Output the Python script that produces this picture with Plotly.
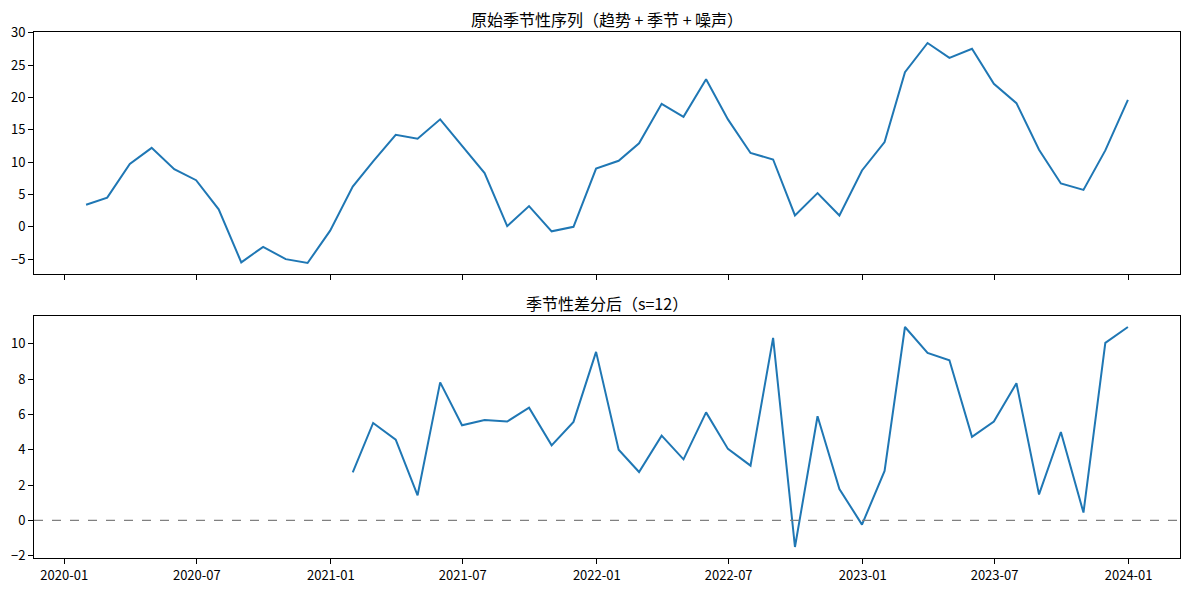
import pandas as pd
import plotly.graph_objects as go
from plotly.subplots import make_subplots

# ---- data ----
dates = pd.date_range("2020-01-31", periods=48, freq="ME")
original = [3.4, 4.5, 9.7, 12.2, 8.9, 7.2, 2.7, -5.5, -3.1, -5.0, -5.6, -0.6,
            6.2, 10.1, 14.2, 13.6, 16.6, 12.5, 8.3, 0.1, 3.2, -0.7, 0.0, 9.0,
            10.2, 12.9, 19.0, 17.0, 22.8, 16.6, 11.4, 10.4, 1.75, 5.2, 1.75, 8.7,
            13.1, 23.9, 28.4, 26.1, 27.5, 22.1, 19.1, 11.9, 6.7, 5.7, 11.8, 19.6]
seasonal_diff = [2.72, 5.52, 4.57, 1.42, 7.82, 5.39, 5.69, 5.60, 6.39, 4.25, 5.58, 9.55,
                 4.00, 2.74, 4.80, 3.46, 6.12, 4.05, 3.10, 10.34, -1.51, 5.90, 1.78, -0.24,
                 2.80, 10.96, 9.49, 9.07, 4.73, 5.60, 7.77, 1.47, 5.01, 0.44, 10.06, 10.96]
diff_dates = dates[12:]
title_top = "原始季节性序列（趋势 + 季节 + 噪声）"
title_bottom = "季节性差分后（s=12）"
x_ticks = pd.date_range("2020-01-01", "2024-01-01", freq="6MS")
x_tick_text = [d.strftime("%Y-%m") for d in x_ticks]

FONT = "Noto Sans CJK SC, SimHei, sans-serif"
BLUE = "#1f77b4"


def padded(lo, hi, frac=0.05):
    span = hi - lo
    return [lo - span * frac, hi + span * frac]


fig = make_subplots(rows=2, cols=1, shared_xaxes=True, vertical_spacing=0.0)

fig.add_trace(go.Scatter(x=dates, y=original, mode="lines",
                         line=dict(color=BLUE, width=2), showlegend=False),
              row=1, col=1)
fig.add_trace(go.Scatter(x=diff_dates, y=seasonal_diff, mode="lines",
                         line=dict(color=BLUE, width=2), showlegend=False),
              row=2, col=1)

# x range with 5% margins, like matplotlib autoscale
t0, t1 = dates[0], dates[-1]
span = t1 - t0
xr = [t0 - span * 0.05, t1 + span * 0.05]

axis_common = dict(showline=True, linecolor="black", linewidth=1, mirror=True,
                   ticks="outside", ticklen=5, tickcolor="black", tickwidth=1,
                   showgrid=False, zeroline=False, automargin=False,
                   tickfont=dict(family=FONT, size=13, color="black"))

fig.update_xaxes(range=xr, tickvals=list(x_ticks), ticktext=x_tick_text, **axis_common)
fig.update_xaxes(showticklabels=False, row=1, col=1)
fig.update_yaxes(**axis_common)
fig.update_yaxes(range=padded(min(original), max(original)), dtick=5, tick0=0, row=1, col=1)
fig.update_yaxes(range=padded(min(seasonal_diff), max(seasonal_diff)), dtick=2, tick0=0,
                 row=2, col=1)

top_dom = [0.5399, 1.0]
bot_dom = [0.0, 0.4601]
fig.update_layout(yaxis=dict(domain=top_dom), yaxis2=dict(domain=bot_dom))

# zero reference line in lower panel
fig.add_shape(type="line", xref="x2 domain", yref="y2", x0=0, x1=1, y0=0, y1=0,
              line=dict(color="gray", width=1.2, dash="dash"))

# panel titles
for txt, dom in ((title_top, top_dom), (title_bottom, bot_dom)):
    fig.add_annotation(text=txt, xref="paper", yref="paper", x=0.5, y=dom[1],
                       yanchor="middle", yshift=13, showarrow=False, borderpad=0,
                       font=dict(family=FONT, size=16, color="black"))

# page body has an 8px default margin; size the figure to fit the window
fig.update_layout(width=1181, height=582,
                  margin=dict(l=26, r=9, t=24, b=32),
                  plot_bgcolor="white", paper_bgcolor="white",
                  font=dict(family=FONT, size=13, color="black"))

fig.write_html("out.html")
